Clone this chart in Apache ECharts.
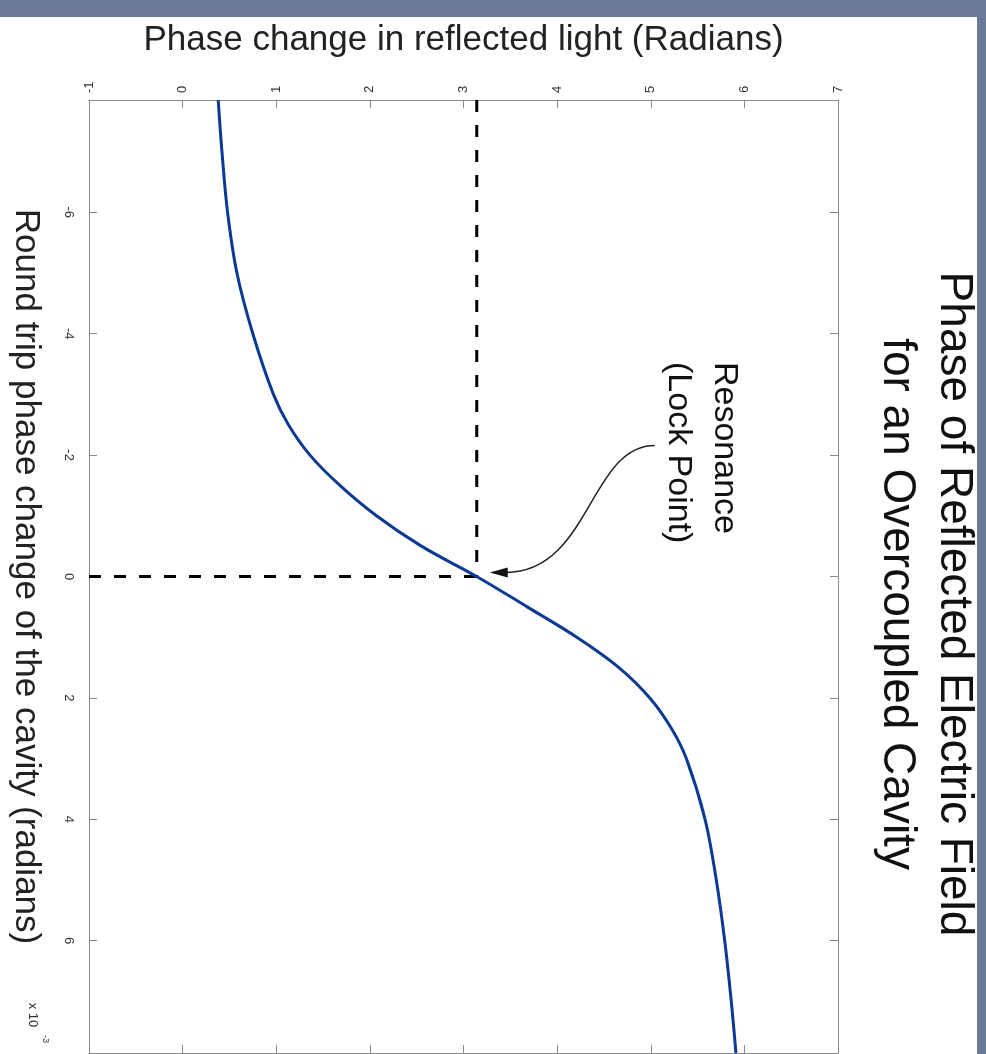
<!DOCTYPE html>
<html>
<head>
<meta charset="utf-8">
<script src="https://cdn.jsdelivr.net/npm/echarts@6/dist/echarts.min.js"></script>
<style>
  html, body { margin: 0; padding: 0; background: #fff; }
  #chart { width: 986px; height: 1054px; }
</style>
</head>
<body>
<div id="chart"></div>
<script>
// round trip phase of the cavity, in units of 1e-3 rad
const roundTrip = [-7.85, -7, -6, -5, -4, -3, -2.5, -2, -1.5, -1, -0.5, 0,
  0.5, 1, 1.5, 2, 2.5, 3, 4, 5, 6, 7, 7.85]
// phase change in reflected light (rad)
const reflectedPhase = [0.38, 0.42, 0.48, 0.58, 0.75, 0.97, 1.13, 1.36, 1.68, 2.07, 2.55, 3.14,
  3.68, 4.21, 4.66, 4.99, 5.22, 5.38, 5.58, 5.70, 5.79, 5.86, 5.91]
const roundTripTicks = [-6, -4, -2, 0, 2, 4, 6]
const roundTripRange = [-7.85, 7.85]
const phaseRange = [-1, 7]
const lockPoint = [Math.PI, 0]

const font = '"Liberation Sans", Arial, sans-serif'
const axisGray = '#8a8a8a'
const textDark = '#222'

const chart = echarts.init(document.getElementById('chart'))

const lineStyle = { show: true, onZero: false, lineStyle: { color: axisGray, width: 1 } }
const tickStyle = {
  show: true,
  inside: true,
  length: 8,
  lineStyle: { color: axisGray, width: 1 }
}

chart.setOption({
  animation: false,
  backgroundColor: '#fff',
  grid: { left: 88, right: 148, top: 100, bottom: 1, show: false },
  xAxis: [
    {
      type: 'value',
      position: 'top',
      min: phaseRange[0],
      max: phaseRange[1],
      interval: 1,
      name: 'Phase change in reflected light (Radians)',
      nameLocation: 'middle',
      nameGap: 42,
      nameTextStyle: { fontFamily: font, fontSize: 35, color: textDark },
      axisLine: lineStyle,
      axisTick: tickStyle,
      axisLabel: { rotate: -90, margin: 7, fontFamily: font, fontSize: 13, color: '#333' },
      splitLine: { show: false }
    },
    {
      type: 'value',
      position: 'bottom',
      min: phaseRange[0],
      max: phaseRange[1],
      interval: 1,
      axisLine: lineStyle,
      axisTick: tickStyle,
      axisLabel: { show: false },
      splitLine: { show: false }
    }
  ],
  yAxis: [
    {
      type: 'value',
      position: 'left',
      inverse: true,
      min: roundTripRange[0],
      max: roundTripRange[1],
      name: 'Round trip phase change of the cavity (radians)',
      nameLocation: 'middle',
      nameRotate: -90,
      nameGap: 46,
      nameTextStyle: { fontFamily: font, fontSize: 35, color: textDark },
      axisLine: lineStyle,
      axisTick: Object.assign({ customValues: roundTripTicks }, tickStyle),
      axisLabel: { customValues: roundTripTicks, rotate: -90, margin: 14, fontFamily: font, fontSize: 13, color: '#333' },
      splitLine: { show: false }
    },
    {
      type: 'value',
      position: 'right',
      inverse: true,
      min: roundTripRange[0],
      max: roundTripRange[1],
      axisLine: lineStyle,
      axisTick: Object.assign({ customValues: roundTripTicks }, tickStyle),
      axisLabel: { show: false },
      splitLine: { show: false }
    }
  ],
  series: [
    {
      name: 'phase',
      type: 'line',
      smooth: 0.35,
      showSymbol: false,
      lineStyle: { color: '#0b3a94', width: 3 },
      data: roundTrip.map((r, i) => [reflectedPhase[i], r]),
      z: 3
    },
    {
      name: 'lockH',
      type: 'line',
      showSymbol: false,
      lineStyle: { color: '#000', width: 3, type: [12, 13] },
      data: [[phaseRange[0], lockPoint[1]], lockPoint],
      z: 2
    },
    {
      name: 'lockV',
      type: 'line',
      showSymbol: false,
      lineStyle: { color: '#000', width: 3, type: [12, 13] },
      data: [[lockPoint[0], roundTripRange[0]], lockPoint],
      z: 2
    }
  ]
})

// annotation arrow pointing at the lock point
const tip = chart.convertToPixel({ xAxisIndex: 0, yAxisIndex: 0 }, lockPoint)
const tx = tip[0] + 13
const ty = tip[1] - 4

chart.setOption({
  graphic: [
    // slide frame
    { type: 'rect', shape: { x: 0, y: 0, width: 986, height: 17 }, style: { fill: '#6b7898' }, z: 0 },
    { type: 'rect', shape: { x: 977, y: 0, width: 9, height: 1054 }, style: { fill: '#6b7898' }, z: 0 },
    {
      type: 'text',
      x: 925,
      y: 604,
      rotation: -Math.PI / 2,
      style: {
        text: 'Phase of Reflected Electric Field\nfor an Overcoupled Cavity',
        fontFamily: font,
        fontSize: 46,
        lineHeight: 57,
        fill: '#111',
        align: 'center',
        verticalAlign: 'middle'
      }
    },
    {
      type: 'text',
      x: 701,
      y: 362,
      rotation: -Math.PI / 2,
      style: {
        text: 'Resonance\n(Lock Point)',
        fontFamily: font,
        fontSize: 34,
        lineHeight: 46,
        fill: '#111',
        align: 'left',
        verticalAlign: 'middle'
      }
    },
    {
      type: 'bezierCurve',
      shape: {
        x1: tx + 165, y1: ty - 127,
        cpx1: tx + 100, cpy1: ty - 127,
        cpx2: tx + 100, cpy2: ty,
        x2: tx + 16, y2: ty
      },
      style: { stroke: '#222', lineWidth: 1.5, fill: null }
    },
    {
      type: 'polygon',
      shape: { points: [[tx, ty], [tx + 18, ty - 5], [tx + 18, ty + 5]] },
      style: { fill: '#111' }
    },
    {
      type: 'text',
      x: 33,
      y: 1015,
      rotation: -Math.PI / 2,
      style: { text: 'x 10', fontFamily: font, fontSize: 13, fill: '#333', align: 'center', verticalAlign: 'middle' }
    },
    {
      type: 'text',
      x: 45,
      y: 1039,
      rotation: -Math.PI / 2,
      style: { text: '-3', fontFamily: font, fontSize: 9, fill: '#333', align: 'center', verticalAlign: 'middle' }
    }
  ]
})
</script>
</body>
</html>
